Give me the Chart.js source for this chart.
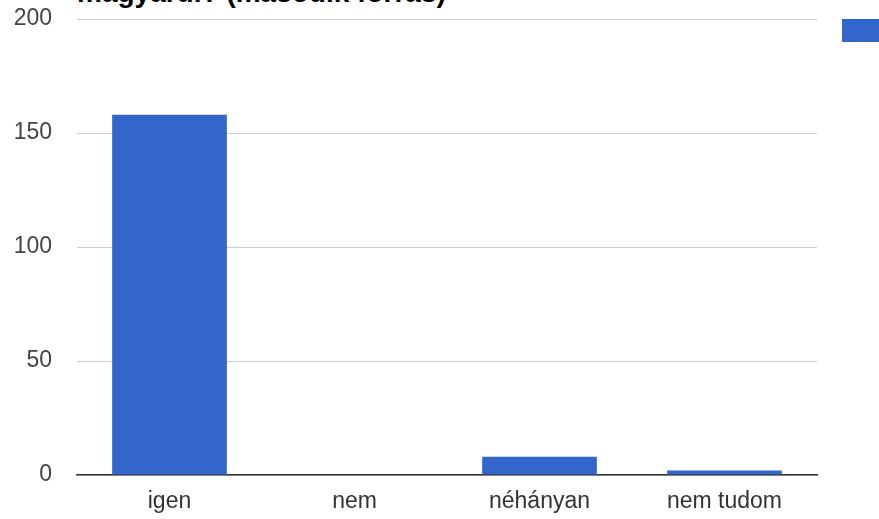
<!DOCTYPE html>
<html>
<head>
<meta charset="utf-8">
<script src="https://cdn.jsdelivr.net/npm/chart.js@4"></script>
<style>
  html, body { margin: 0; padding: 0; background: #fff; overflow: hidden; }
  body { width: 879px; height: 519px; position: relative; }
  #title {
    position: absolute; left: 77px; top: -21px;
    font: bold 28px "Liberation Sans", Arial, sans-serif; line-height: 28px;
    color: #000; white-space: nowrap;
  }
  #wrap { position: absolute; left: 0; top: 0; width: 962px; height: 519px; }
</style>
</head>
<body>
<div id="title">magyarul? (második forrás)</div>
<div id="wrap"><canvas id="chart"></canvas></div>
<script>
// Data
const categories = ['igen', 'nem', 'néhányan', 'nem tudom'];
const counts = [158, 0, 8, 2];
const seriesName = 'Darabszám';
const yTicks = [0, 50, 100, 150, 200];

const tickFont = { family: '"Liberation Sans", Arial, sans-serif', size: 23 };

const ctx = document.getElementById('chart');
const chart = new Chart(ctx, {
    type: 'bar',
    data: {
        labels: categories,
        datasets: [{
            label: seriesName,
            data: counts,
            backgroundColor: '#3366cc',
            borderWidth: 0,
            categoryPercentage: 0.62,
            barPercentage: 1
        }]
    },
    options: {
        responsive: true,
        maintainAspectRatio: false,
        animation: false,
        layout: { padding: { top: 19, bottom: 0, left: 0, right: 0 } },
        plugins: {
            title: { display: false },
            tooltip: { enabled: false },
            legend: {
                position: 'right',
                align: 'start',
                maxWidth: 120,
                labels: {
                    boxWidth: 46,
                    boxHeight: 23,
                    padding: 0,
                    color: '#222',
                    font: tickFont
                }
            }
        },
        scales: {
            x: {
                grid: { display: false, drawTicks: false },
                border: { display: true, color: '#333', width: 1.5 },
                ticks: { color: '#333', font: tickFont, padding: 13 },
                afterFit: s => { s.height = 44; }
            },
            y: {
                min: 0,
                max: yTicks[yTicks.length - 1],
                afterBuildTicks: s => { s.ticks = yTicks.map(v => ({ value: v })); },
                grid: { color: '#cccccc', drawTicks: false },
                border: { display: false },
                ticks: { color: '#444', font: tickFont, padding: 25 },
                afterFit: s => { s.width = 77; s.paddingTop = 0; s.paddingBottom = 0; }
            },
            // spacer between plot and legend
            gap: {
                type: 'linear',
                position: 'right',
                display: true,
                grid: { display: false, drawTicks: false },
                border: { display: false },
                ticks: { display: false },
                afterFit: s => { s.width = 25; }
            }
        }
    }
});
</script>
</body>
</html>
